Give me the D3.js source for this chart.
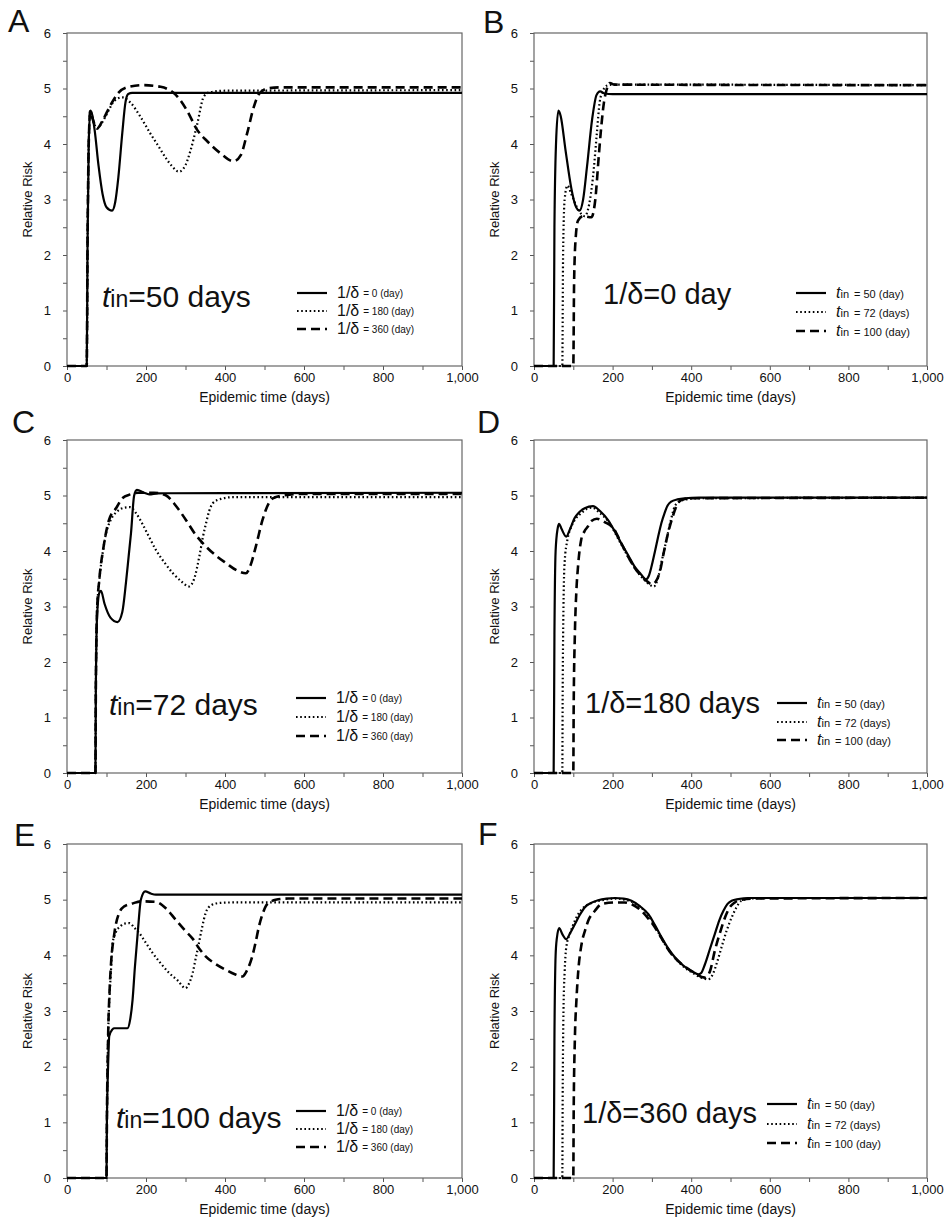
<!DOCTYPE html>
<html>
<head>
<meta charset="utf-8">
<script src="https://cdn.jsdelivr.net/npm/d3@7"></script>
<style>
  body { margin: 0; background: #fff; }
  text { font-family: Arial, "Liberation Sans", sans-serif; fill: #111; }
</style>
</head>
<body>
<svg id="chart" width="949" height="1219"></svg>
<script>
// ---- data: [epidemic time (days), relative risk] ----
// Panel A: t_in = 50 days
var A_d0 = [[0,0],[50,0],[52,2.2],[55,4.0],[59,4.6],[63,4.55],[70,4.25],[80,3.6],[90,3.1],[100,2.86],[114,2.8],[122,2.95],[130,3.4],[140,4.2],[148,4.75],[155,4.9],[165,4.92],[1000,4.92]];
var A_d180 = [[0,0],[50,0],[52,2.2],[55,4.0],[59,4.6],[65,4.45],[76,4.28],[90,4.4],[105,4.6],[120,4.78],[140,4.84],[160,4.75],[186,4.49],[210,4.2],[228,4.0],[250,3.75],[266,3.6],[283,3.5],[300,3.62],[313,3.89],[330,4.37],[346,4.85],[360,4.93],[400,4.96],[1000,4.97]];
var A_d360 = [[0,0],[50,0],[52,2.2],[55,4.0],[59,4.6],[65,4.45],[76,4.28],[90,4.42],[110,4.7],[130,4.92],[152,5.02],[194,5.06],[237,5.03],[260,4.97],[279,4.86],[304,4.6],[330,4.25],[355,4.05],[389,3.83],[422,3.69],[440,3.8],[456,4.19],[473,4.67],[486,4.9],[507,5.0],[540,5.02],[1000,5.02]];

// Panel B: 1/delta = 0 day
var B_t50 = [[0,0],[50,0],[52,2.5],[56,4.0],[62,4.6],[68,4.5],[80,3.9],[95,3.2],[105,2.9],[116,2.8],[125,3.0],[135,3.6],[148,4.45],[159,4.88],[168,4.95],[180,4.91],[200,4.9],[1000,4.9]];
var B_t72 = [[0,0],[72,0],[74,2.0],[78,3.0],[85,3.25],[95,3.1],[110,2.85],[129,2.7],[140,2.9],[150,3.4],[160,4.2],[167,4.75],[175,4.95],[185,5.05],[200,5.07],[1000,5.06]];
var B_t100 = [[0,0],[100,0],[102,1.5],[106,2.3],[112,2.62],[125,2.7],[146,2.68],[156,3.0],[165,3.8],[171,4.3],[178,4.75],[184,4.96],[193,5.1],[205,5.07],[1000,5.06]];

// Panel C: t_in = 72 days
var C_d0 = [[0,0],[72,0],[73,1.5],[76,2.8],[82,3.25],[86,3.28],[95,3.05],[110,2.8],[128,2.72],[140,2.9],[149,3.41],[156,3.9],[162,4.32],[170,5.0],[177,5.1],[195,5.05],[208,5.02],[230,5.04],[1000,5.05]];
var C_d180 = [[0,0],[72,0],[73,1.5],[76,2.9],[82,3.48],[90,3.95],[99,4.32],[110,4.55],[125,4.7],[145,4.78],[160,4.79],[175,4.68],[190,4.5],[208,4.25],[225,4.02],[248,3.78],[268,3.6],[290,3.45],[309,3.36],[322,3.5],[335,3.9],[344,4.25],[352,4.5],[360,4.72],[369,4.86],[390,4.94],[420,4.97],[1000,4.97]];
var C_d360 = [[0,0],[72,0],[73,1.5],[76,2.9],[82,3.5],[92,4.05],[106,4.55],[125,4.78],[140,4.95],[160,5.02],[180,5.05],[220,5.05],[251,5.0],[275,4.82],[301,4.56],[325,4.3],[352,4.08],[380,3.9],[403,3.78],[430,3.65],[453,3.6],[465,3.75],[478,4.08],[495,4.56],[510,4.85],[521,4.95],[546,5.0],[600,5.03],[1000,5.03]];

// Panel D: 1/delta = 180 days
var D_t50 = [[0,0],[50,0],[52,2.5],[55,4.0],[60,4.4],[64,4.49],[70,4.4],[82,4.26],[92,4.4],[103,4.59],[115,4.7],[129,4.77],[150,4.81],[168,4.72],[188,4.56],[205,4.36],[222,4.14],[240,3.92],[256,3.72],[270,3.6],[285,3.49],[292,3.55],[299,3.72],[308,4.0],[316,4.26],[324,4.5],[332,4.68],[340,4.82],[349,4.89],[365,4.93],[383,4.95],[420,4.96],[1000,4.96]];
var D_t72 = [[0,0],[72,0],[73,1.5],[75,3.0],[78,3.8],[85,4.2],[95,4.44],[108,4.6],[120,4.68],[135,4.76],[148,4.78],[165,4.7],[188,4.54],[222,4.12],[256,3.7],[285,3.45],[305,3.36],[315,3.5],[326,3.85],[337,4.2],[348,4.55],[358,4.8],[368,4.88],[380,4.92],[420,4.95],[1000,4.96]];
var D_t100 = [[0,0],[100,0],[101,1.2],[104,2.5],[108,3.3],[112,3.72],[120,4.2],[128,4.35],[137,4.44],[146,4.54],[160,4.58],[180,4.52],[205,4.38],[222,4.14],[256,3.7],[285,3.47],[300,3.4],[310,3.45],[320,3.62],[331,4.0],[341,4.32],[352,4.6],[362,4.8],[375,4.92],[400,4.95],[1000,4.96]];

// Panel E: t_in = 100 days
var E_d0 = [[0,0],[100,0],[101,1.0],[104,2.0],[107,2.55],[115,2.67],[120,2.69],[153,2.69],[160,2.85],[166,3.2],[172,3.8],[179,4.4],[187,5.0],[198,5.15],[212,5.11],[225,5.09],[1000,5.09]];
var E_d180 = [[0,0],[100,0],[101,1.0],[104,2.5],[108,3.3],[111,3.68],[115,4.2],[124,4.42],[135,4.52],[145,4.57],[158,4.58],[170,4.5],[183,4.4],[200,4.22],[217,4.04],[238,3.85],[259,3.68],[280,3.55],[300,3.41],[308,3.48],[318,3.68],[326,3.95],[334,4.22],[342,4.5],[351,4.76],[365,4.9],[385,4.94],[420,4.95],[1000,4.95]];
var E_d360 = [[0,0],[100,0],[101,1.0],[104,2.5],[108,3.4],[111,3.8],[120,4.4],[132,4.76],[145,4.88],[165,4.93],[188,4.97],[225,4.96],[251,4.84],[275,4.64],[297,4.46],[318,4.3],[335,4.12],[351,3.98],[375,3.85],[402,3.74],[425,3.66],[444,3.62],[455,3.72],[469,3.98],[478,4.25],[486,4.52],[495,4.74],[503,4.88],[515,4.96],[528,5.0],[560,5.02],[1000,5.02]];

// Panel F: 1/delta = 360 days
var F_t50 = [[0,0],[50,0],[52,2.5],[55,4.0],[58,4.3],[64,4.49],[72,4.38],[82,4.29],[92,4.4],[104,4.56],[116,4.72],[129,4.86],[145,4.94],[163,4.99],[185,5.02],[206,5.03],[228,5.02],[248,4.98],[270,4.88],[291,4.74],[308,4.54],[325,4.32],[342,4.12],[359,3.96],[376,3.84],[393,3.75],[405,3.7],[418,3.66],[425,3.68],[435,3.84],[447,4.1],[460,4.38],[471,4.62],[482,4.8],[492,4.92],[503,4.98],[520,5.01],[545,5.03],[1000,5.03]];
var F_t72 = [[0,0],[72,0],[73,1.5],[75,3.0],[78,3.7],[82,4.14],[92,4.4],[104,4.62],[116,4.78],[130,4.88],[150,4.95],[180,5.0],[206,5.02],[230,5.0],[250,4.96],[272,4.86],[291,4.72],[308,4.52],[325,4.3],[342,4.1],[359,3.95],[380,3.8],[405,3.68],[425,3.6],[443,3.57],[455,3.66],[466,3.88],[477,4.14],[490,4.44],[503,4.68],[515,4.86],[528,4.98],[550,5.02],[600,5.03],[1000,5.03]];
var F_t100 = [[0,0],[100,0],[101,1.2],[104,2.5],[108,3.2],[112,3.66],[121,4.2],[130,4.45],[138,4.62],[155,4.8],[172,4.92],[206,4.95],[230,4.95],[248,4.92],[270,4.82],[291,4.66],[308,4.5],[325,4.3],[342,4.1],[359,3.95],[380,3.82],[405,3.7],[435,3.6],[448,3.72],[460,4.08],[473,4.4],[486,4.68],[498,4.86],[511,4.95],[530,5.0],[560,5.02],[1000,5.03]];

// tick labels and legend texts
var xTicks = [0, 200, 400, 600, 800, 1000];
var xTickLabels = ["0", "200", "400", "600", "800", "1,000"];
var yTicks = [0, 1, 2, 3, 4, 5, 6];
var deltaLegend = ["= 0 (day)", "= 180 (day)", "= 360 (day)"];
var tinLegend = ["=  50 (day)", "= 72 (days)", "= 100 (day)"];

// ---- layout ----
var colLeft = [67, 534], colW = [395, 393];
var rowTop = [33, 440, 844], rowH = [333, 333, 334];
var styles = [
  { width: 2.2, dash: null },
  { width: 2.2, dash: "1.6,2.6" },
  { width: 2.6, dash: "9,5" }
];

var panels = [
  { id: "A", c: 0, r: 0, series: [A_d0, A_d180, A_d360], kind: "delta", note: ["t", "in", "=50 days"],
    lab: [-59, -1], nx: 35, ny: -59, lx: 230, ly: [-73, -55, -37] },
  { id: "B", c: 1, r: 0, series: [B_t50, B_t72, B_t100], kind: "tin", note: ["1/δ=0 day"],
    lab: [-51, 0], nx: 69, ny: -62, lx: 262, ly: [-73, -54, -35] },
  { id: "C", c: 0, r: 1, series: [C_d0, C_d180, C_d360], kind: "delta", note: ["t", "in", "=72 days"],
    lab: [-55, -7], nx: 42, ny: -58, lx: 229, ly: [-75, -56, -37] },
  { id: "D", c: 1, r: 1, series: [D_t50, D_t72, D_t100], kind: "tin", note: ["1/δ=180 days"],
    lab: [-57, -7], nx: 51, ny: -60, lx: 243, ly: [-70, -51, -33] },
  { id: "E", c: 0, r: 2, series: [E_d0, E_d180, E_d360], kind: "delta", note: ["t", "in", "=100 days"],
    lab: [-53, 2], nx: 49, ny: -50, lx: 229, ly: [-67, -49, -31] },
  { id: "F", c: 1, r: 2, series: [F_t50, F_t72, F_t100], kind: "tin", note: ["1/δ=360 days"],
    lab: [-56, 1], nx: 48, ny: -55, lx: 233, ly: [-74, -54, -35] }
];

var svg = d3.select("#chart");

panels.forEach(function(p) {
  var left = colLeft[p.c], top = rowTop[p.r], w = colW[p.c], h = rowH[p.r];
  var x = d3.scaleLinear().domain([0, 1000]).range([0, w]);
  var y = d3.scaleLinear().domain([0, 6]).range([h, 0]);
  var g = svg.append("g").attr("transform", "translate(" + left + "," + top + ")");

  // minor + major ticks (outward)
  var yAx = d3.axisLeft(y).tickValues(d3.range(0, 6.01, 0.5)).tickSize(4)
    .tickPadding(12).tickFormat(function(d) { return yTicks.indexOf(d) < 0 ? "" : d; });
  var gy = g.append("g").call(yAx);
  gy.select(".domain").remove();
  gy.selectAll("line").attr("stroke", "#555");
  gy.selectAll("text").style("font-size", "13px");

  var xAx = d3.axisBottom(x).tickValues(d3.range(0, 1001, 100)).tickSize(4).tickPadding(3)
    .tickFormat(function(d) { var i = xTicks.indexOf(d); return i < 0 ? "" : xTickLabels[i]; });
  var gx = g.append("g").attr("transform", "translate(0," + h + ")").call(xAx);
  gx.select(".domain").remove();
  gx.selectAll("line").attr("stroke", "#555");
  gx.selectAll("text").style("font-size", "13px");

  // frame
  g.append("rect").attr("width", w).attr("height", h)
    .attr("fill", "none").attr("stroke", "#666").attr("stroke-width", 1.2);

  // curves
  var line = d3.line().x(function(d) { return x(d[0]); }).y(function(d) { return y(d[1]); })
    .curve(d3.curveMonotoneX);
  p.series.forEach(function(s, i) {
    g.append("path").datum(s).attr("d", line).attr("fill", "none")
      .attr("stroke", "#000").attr("stroke-width", styles[i].width)
      .attr("stroke-dasharray", styles[i].dash);
  });

  // axis titles
  g.append("text").attr("transform", "translate(-35," + (h / 2) + ") rotate(-90)")
    .attr("text-anchor", "middle").style("font-size", "13px").text("Relative Risk");
  g.append("text").attr("x", w / 2).attr("y", h + 36).attr("text-anchor", "middle")
    .style("font-size", "14px").text("Epidemic time (days)");

  // panel letter
  g.append("text").attr("x", p.lab[0]).attr("y", p.lab[1]).style("font-size", "32px").text(p.id);

  // annotation
  var note = g.append("text").attr("x", p.nx).attr("y", h + p.ny).style("font-size", "29px");
  if (p.note.length === 3) {
    note.style("font-size", "30px");
    note.append("tspan").style("font-style", "italic").text(p.note[0]);
    note.append("tspan").style("font-size", "23px").text(p.note[1]);
    note.append("tspan").text(p.note[2]);
  } else {
    note.text(p.note[0]);
  }

  // legend
  var labels = p.kind === "delta" ? deltaLegend : tinLegend;
  p.ly.forEach(function(dy, i) {
    var ly = h + dy;
    g.append("line").attr("x1", p.lx).attr("x2", p.lx + 30).attr("y1", ly).attr("y2", ly)
      .attr("stroke", "#000").attr("stroke-width", styles[i].width)
      .attr("stroke-dasharray", styles[i].dash);
    var t = g.append("text").attr("x", p.lx + 40).attr("y", ly + 5);
    if (p.kind === "delta") {
      t.append("tspan").style("font-size", "16px").text("1/δ");
      t.append("tspan").attr("dx", 4).attr("dy", -1).style("font-size", "10px").text(labels[i]);
    } else {
      t.append("tspan").style("font-size", "16px").style("font-style", "italic").text("t");
      t.append("tspan").style("font-size", "11px").text("in");
      t.append("tspan").attr("dx", 5).style("font-size", "11px").text(labels[i]);
    }
  });
});
</script>
</body>
</html>
